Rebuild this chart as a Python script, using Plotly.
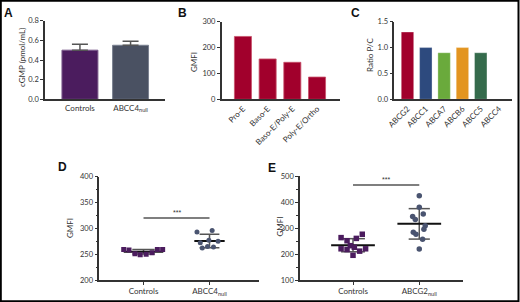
import numpy as np
import plotly.graph_objects as go

W, H = 520, 302

# ---------------- data ----------------
a_cats = ["Controls", "ABCC4<sub>null</sub>"]
a_vals = [0.50, 0.55]
a_err = [0.06, 0.04]

b_cats = ["Pro-E", "Baso-E", "Baso-E/Poly-E", "Poly-E/Ortho"]
b_vals = [243, 156, 143, 86]

c_cats = ["ABCG2", "ABCC1", "ABCA7", "ABCB6", "ABCC5", "ABCC4"]
c_vals = [1.3, 1.0, 0.9, 1.0, 0.9, 0.0]

d_cats = ["Controls", "ABCC4<sub>null</sub>"]
d_ctrl = [259, 258, 251, 249, 250, 253, 259, 259]
d_ctrl_jit = [-0.30, -0.22, -0.13, -0.05, 0.04, 0.13, 0.21, 0.29]
d_null = [293, 296, 272, 277, 275, 262, 265, 264]
d_null_jit = [-0.19, 0.04, -0.14, -0.01, 0.13, -0.11, -0.03, 0.06]
d_sig = 320

e_cats = ["Controls", "ABCG2<sub>null</sub>"]
e_ctrl = [263, 251, 260, 276, 220, 217, 232, 226, 211, 220, 195]
e_ctrl_jit = [-0.18, -0.09, 0.05, 0.14, -0.18, -0.09, -0.04, 0.02, 0.10, 0.19, 0.0]
e_null = [424, 380, 344, 333, 354, 309, 284, 276, 295, 257, 219]
e_null_jit = [0.0, 0.0, -0.10, -0.06, 0.06, 0.09, -0.09, -0.05, 0.07, 0.05, 0.0]
e_sig = 465

# ---------------- styles ----------------
AX = "#333333"
TICKFONT = dict(family="Lato, Open Sans, sans-serif", size=8, color="#333333")
YTICKFONT = dict(family="Lato, Open Sans, sans-serif", size=7.5, color="#333333")
PURPLE = "#4b1c5e"
SLATE = "#4a5470"
CRIMSON = "#a1002c"
c_colors = ["#a1002c", "#2d4a7e", "#6aaa3c", "#e39520", "#356b4c", "#555555"]


def px(x):
    return x / W


def py(y):
    return 1 - y / H


fig = go.Figure()

# Panel A
fig.add_trace(go.Bar(x=[0, 1], y=a_vals, width=0.71,
                     marker=dict(color=[PURPLE, "#4a5162"],
                                 line=dict(color=["#7a5a8a", "#7a8090"], width=1)),
                     error_y=dict(type="data", symmetric=False, array=a_err,
                                  arrayminus=[0, 0], color="#555555", thickness=1.5, width=8),
                     xaxis="x", yaxis="y", showlegend=False))
# Panel B
fig.add_trace(go.Bar(x=list(range(len(b_cats))), y=b_vals, width=0.69,
                     marker=dict(color=CRIMSON, line=dict(color="#c8506a", width=0.8)),
                     xaxis="x2", yaxis="y2", showlegend=False))
# Panel C
fig.add_trace(go.Bar(x=list(range(len(c_cats))), y=c_vals, width=0.68,
                     marker=dict(color=c_colors, line=dict(color="rgba(255,255,255,0.4)", width=0.8)),
                     xaxis="x3", yaxis="y3", showlegend=False))


def stat_lines(vals, center, xa, ya, mhw=0.3, chw=0.17):
    m = float(np.mean(vals))
    s = float(np.std(vals, ddof=1))
    fig.add_trace(go.Scatter(
        x=[center, center, None, center - chw, center + chw, None, center - chw, center + chw],
        y=[m - s, m + s, None, m + s, m + s, None, m - s, m - s],
        mode="lines", line=dict(color="#555555", width=1.5),
        xaxis=xa, yaxis=ya, showlegend=False, hoverinfo="skip"))
    fig.add_trace(go.Scatter(
        x=[center - mhw, center + mhw], y=[m, m], mode="lines",
        line=dict(color="#111111", width=2),
        xaxis=xa, yaxis=ya, showlegend=False, hoverinfo="skip"))


# Panel D
stat_lines(d_ctrl, 0, "x4", "y4", 0.3, 0.17)
stat_lines(d_null, 1, "x4", "y4", 0.23, 0.15)
fig.add_trace(go.Scatter(x=[0 + j for j in d_ctrl_jit], y=d_ctrl, mode="markers",
                         marker=dict(symbol="square", size=5, color=PURPLE),
                         xaxis="x4", yaxis="y4", showlegend=False))
fig.add_trace(go.Scatter(x=[1 + j for j in d_null_jit], y=d_null, mode="markers",
                         marker=dict(symbol="circle", size=5, color=SLATE),
                         xaxis="x4", yaxis="y4", showlegend=False))
fig.add_trace(go.Scatter(x=[0, 1], y=[d_sig, d_sig], mode="lines",
                         line=dict(color="#555555", width=1.5),
                         xaxis="x4", yaxis="y4", showlegend=False))

# Panel E
stat_lines(e_ctrl, 0, "x5", "y5", 0.33, 0.18)
stat_lines(e_null, 1, "x5", "y5", 0.33, 0.16)
fig.add_trace(go.Scatter(x=[0 + j for j in e_ctrl_jit], y=e_ctrl, mode="markers",
                         marker=dict(symbol="square", size=5.5, color=PURPLE),
                         xaxis="x5", yaxis="y5", showlegend=False))
fig.add_trace(go.Scatter(x=[1 + j for j in e_null_jit], y=e_null, mode="markers",
                         marker=dict(symbol="circle", size=5.5, color=SLATE),
                         xaxis="x5", yaxis="y5", showlegend=False))
fig.add_trace(go.Scatter(x=[0, 1], y=[e_sig, e_sig], mode="lines",
                         line=dict(color="#555555", width=1.5),
                         xaxis="x5", yaxis="y5", showlegend=False))


def xax(dom, rng, cats, ticks="", angle=0):
    return dict(domain=dom, range=rng, tickmode="array", tickvals=list(range(len(cats))),
                ticktext=cats, showline=True, linecolor=AX, linewidth=1.5,
                ticks=ticks, ticklen=3, tickcolor=AX, tickangle=angle, automargin=False,
                showgrid=False, zeroline=False, tickfont=TICKFONT, fixedrange=True)


def yax(dom, rng, dtick, anchor, fmt="", minor=None):
    d = dict(domain=dom, range=rng, dtick=dtick, tick0=0, anchor=anchor, showline=True,
             linecolor=AX, linewidth=1.5, ticks="outside", ticklen=3, tickcolor=AX,
             tickformat=fmt, automargin=False, showticklabels=True,
             showgrid=False, zeroline=False, tickfont=YTICKFONT, fixedrange=True)
    if minor:
        d["minor"] = dict(dtick=minor, ticks="outside", ticklen=2, tickcolor=AX, showgrid=False)
    return d


ytop = [py(99.3), py(21.7)]
layout = dict(
    template="none",
    width=W, height=H, margin=dict(l=0, r=0, t=0, b=0, autoexpand=False),
    paper_bgcolor="white", plot_bgcolor="rgba(0,0,0,0)",
    xaxis=dict(**xax([px(45), px(165)], [-0.69, 1.68], a_cats), anchor="y"),
    yaxis=yax([py(99.3), py(20.7)], [0, 0.8], 0.2, "x", fmt=".1f"),
    xaxis2=dict(**xax([px(221.7), px(340)], [-0.86, 3.93], b_cats, angle=-45), anchor="y2"),
    yaxis2=yax(ytop, [0, 300], 100, "x2"),
    xaxis3=dict(**xax([px(394.3), px(511.7)], [-0.72, 5.69], c_cats, angle=-45), anchor="y3"),
    yaxis3=yax(ytop, [0, 1.5], 0.5, "x3", fmt=".1f"),
    xaxis4=dict(**xax([px(99.3), px(259)], [-0.67, 1.75], d_cats, ticks="outside"), anchor="y4"),
    yaxis4=yax([py(280), py(176.7)], [200, 400], 50, "x4", minor=25),
    xaxis5=dict(**xax([px(300), px(463)], [-0.8, 1.66], e_cats, ticks="outside"), anchor="y5"),
    yaxis5=yax([py(280), py(176)], [100, 500], 100, "x5", minor=50),
    showlegend=False,
)
fig.update_layout(**layout)

LETTER = dict(family="Liberation Sans, Arial, sans-serif", size=12, color="#111111")
ann = []
for t, x, y in [("A", 8.5, 13), ("B", 182.5, 13), ("C", 355, 13), ("D", 62, 167), ("E", 272, 168)]:
    ann.append(dict(text="<b>%s</b>" % t, x=px(x), y=py(y), xref="paper", yref="paper",
                    showarrow=False, font=LETTER, xanchor="center", yanchor="middle"))
TITLEF = dict(family="Lato, Open Sans, sans-serif", size=8, color="#333333")
for t, x, y in [("cGMP (pmol/mL)", 22, 58), ("GMFI", 193.3, 61.7), ("Ratio P/C", 370, 55),
                ("GMFI", 70, 228), ("GMFI", 279.5, 227)]:
    ann.append(dict(text=t, x=px(x), y=py(y), xref="paper", yref="paper", textangle=-90,
                    showarrow=False, font=TITLEF, xanchor="center", yanchor="middle"))
STAR = dict(family="Liberation Sans, Arial, sans-serif", size=7, color="#333333")
ann.append(dict(text="***", x=0.5, y=d_sig, xref="x4", yref="y4", showarrow=False,
                font=STAR, yanchor="bottom", yshift=0))
ann.append(dict(text="***", x=0.5, y=e_sig, xref="x5", yref="y5", showarrow=False,
                font=STAR, yanchor="bottom", yshift=0))
fig.update_layout(annotations=ann)

fig.add_shape(type="rect", xref="paper", yref="paper", x0=px(0.8), x1=px(518.5),
              y0=py(301.2), y1=py(0.8), line=dict(color="black", width=2))

fig.write_html("out.html", config={"displayModeBar": False},
               post_script="document.body.style.margin='0px';")
